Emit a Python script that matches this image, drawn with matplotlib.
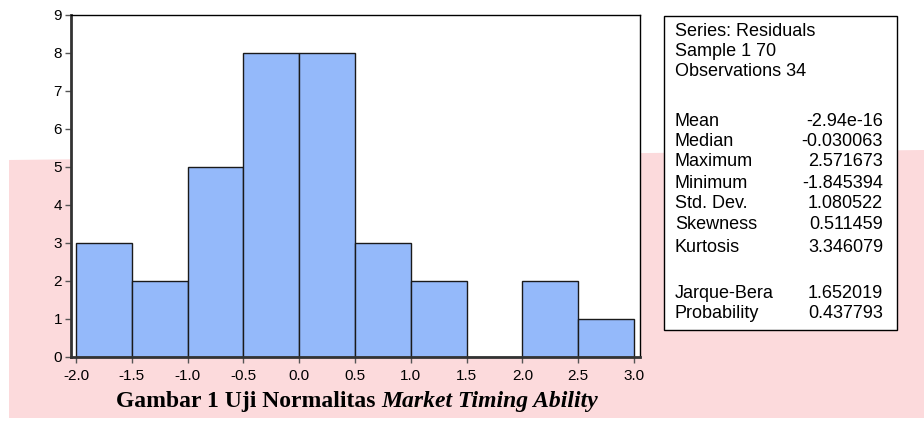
import numpy as np
import matplotlib.pyplot as plt
from matplotlib.patches import Polygon, Rectangle

# Histogram of residuals (bin edges and counts)
bin_edges = [-2.0, -1.5, -1.0, -0.5, 0.0, 0.5, 1.0, 1.5, 2.0, 2.5, 3.0]
counts = [3, 2, 5, 8, 8, 3, 2, 0, 2, 1]
x_ticks = [-2.0, -1.5, -1.0, -0.5, 0.0, 0.5, 1.0, 1.5, 2.0, 2.5, 3.0]
y_ticks = [0, 1, 2, 3, 4, 5, 6, 7, 8, 9]

# Summary statistics box
header_lines = ["Series: Residuals", "Sample 1 70", "Observations 34"]
header_rows_px = [32, 52, 71]
stat_names = ["Mean", "Median", "Maximum", "Minimum", "Std. Dev.", "Skewness",
              "Kurtosis", "Jarque-Bera", "Probability"]
stat_values = ["-2.94e-16", "-0.030063", "2.571673", "-1.845394", "1.080522",
               "0.511459", "3.346079", "1.652019", "0.437793"]
stat_rows_px = [122, 142, 162, 183, 204, 224, 247, 293, 313]

W, H = 924, 425
plt.rcParams['font.family'] = ['Liberation Sans', 'DejaVu Sans']
fig = plt.figure(figsize=(W / 100, H / 100), dpi=100)
fig.patch.set_facecolor('white')

# pink watermark band behind everything
band = Polygon([(9 / W, 1 - 160 / H), (1.0, 1 - 150 / H), (1.0, 1 - 418 / H), (9 / W, 1 - 418 / H)],
               closed=True, transform=fig.transFigure, facecolor='#fcdadc',
               edgecolor='none', zorder=-5)
fig.patches.append(band)

ax = fig.add_axes([71 / W, 1 - 357 / H, (640 - 71) / W, (357 - 15) / H])
ax.set_facecolor('white')
widths = np.diff(bin_edges)
ax.bar(bin_edges[:-1], counts, width=widths, align='edge', color='#94b9fa',
       edgecolor='#1a1a1a', linewidth=1.0, zorder=2)
ax.set_xlim(-2.045, 3.054)
ax.set_ylim(0, 9)
ax.set_xticks(x_ticks)
ax.set_xticklabels(["%.1f" % v for v in x_ticks])
ax.set_yticks(y_ticks)
ax.tick_params(direction='out', length=4.5, width=1, color='#555555', labelsize=11)
ax.tick_params(axis='x', pad=4)
ax.tick_params(axis='y', pad=2)
for side in ['top', 'right']:
    ax.spines[side].set_linewidth(1.0)
    ax.spines[side].set_color('black')
ax.spines['left'].set_linewidth(2.0)
ax.spines['left'].set_color('#333333')
ax.spines['bottom'].set_linewidth(2.0)
ax.spines['bottom'].set_color('#333333')

# stats box
box = Rectangle((664 / W, 1 - 330 / H), (897 - 664) / W, (330 - 16) / H,
                transform=fig.transFigure, facecolor='white', edgecolor='black',
                linewidth=1.0, zorder=1)
fig.patches.append(box)
for line, y in zip(header_lines, header_rows_px):
    fig.text(675 / W, 1 - y / H, line, fontsize=13, va='center', ha='left')
for name, val, y in zip(stat_names, stat_values, stat_rows_px):
    fig.text(675 / W, 1 - y / H, name, fontsize=13, va='center', ha='left')
    fig.text(883 / W, 1 - y / H, val, fontsize=13, va='center', ha='right')

# caption: bold roman part + bold italic part, centred together
cap_y = 1 - 401 / H
t1 = fig.text(0, cap_y, "Gambar 1 Uji Normalitas ", fontsize=17, fontweight='bold',
              family='Liberation Serif', ha='left', va='center')
t2 = fig.text(0, cap_y, "Market Timing Ability", fontsize=17, fontweight='bold',
              style='italic', family='Liberation Serif', ha='left', va='center')
renderer = fig.canvas.get_renderer()
w1 = t1.get_window_extent(renderer).width
w2 = t2.get_window_extent(renderer).width
x0 = 357 - (w1 + w2) / 2
t1.set_x(x0 / W)
t2.set_x((x0 + w1) / W)

plt.savefig("out.png", dpi=100)
